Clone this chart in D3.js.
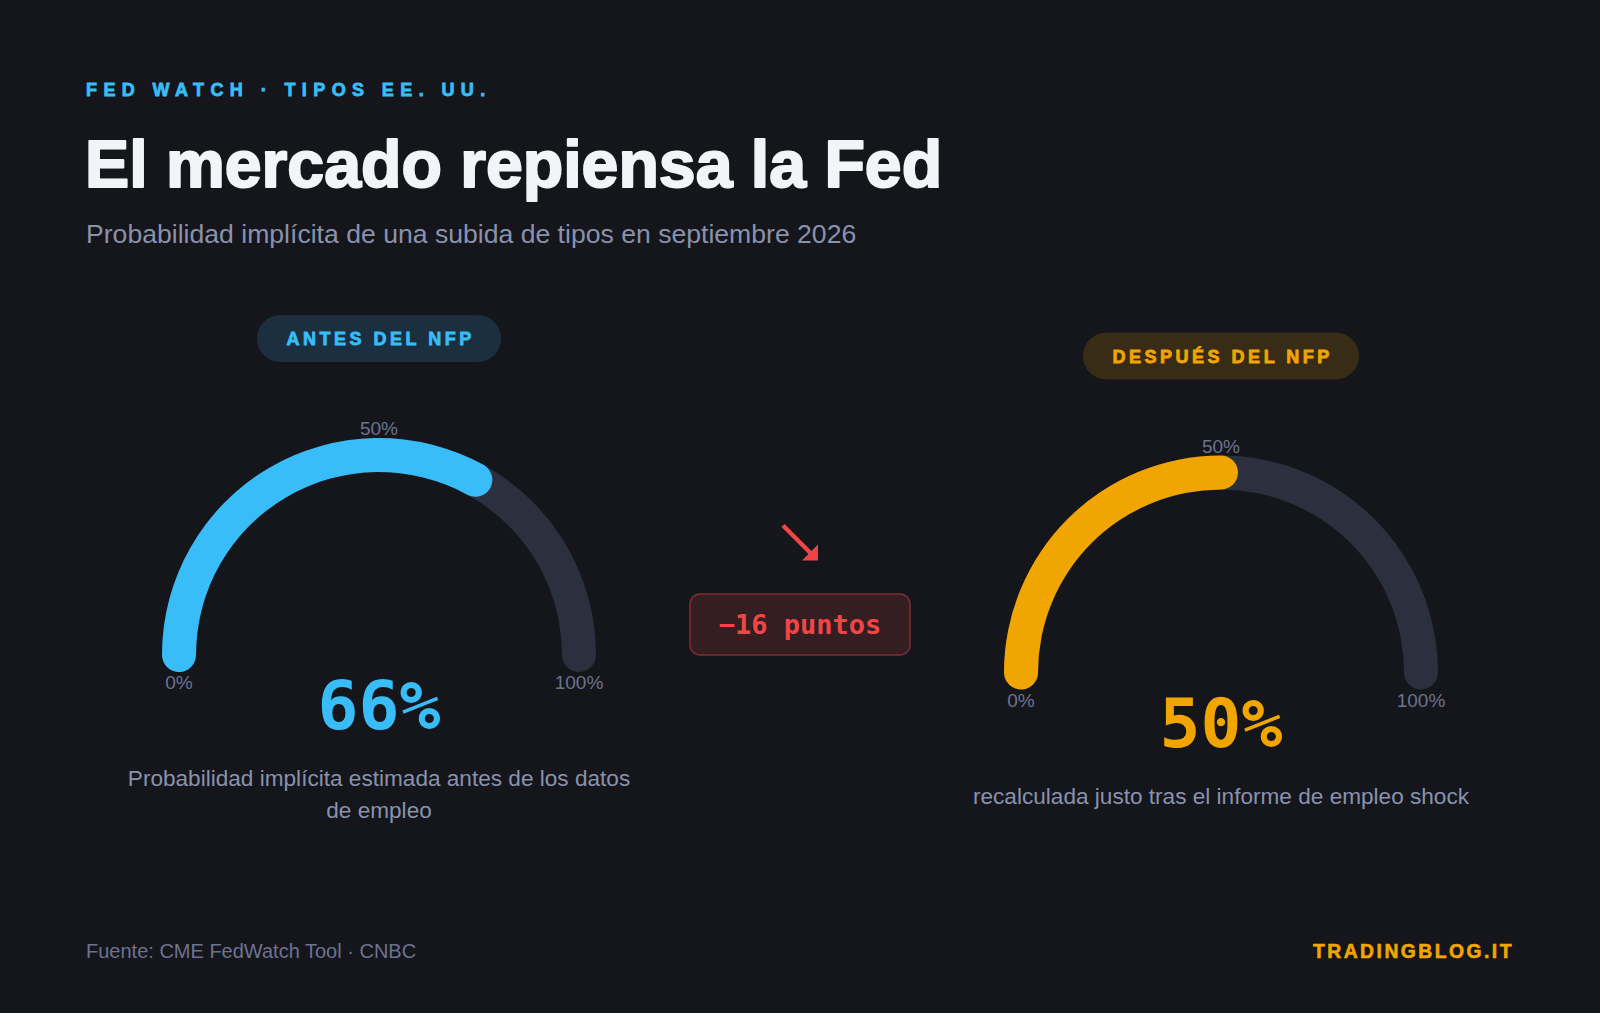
<!DOCTYPE html>
<html>
<head>
<meta charset="utf-8">
<script src="https://cdn.jsdelivr.net/npm/d3@7"></script>
<style>
  html, body { margin: 0; padding: 0; background: #15161b; }
  svg { display: block; }
</style>
</head>
<body>
<div id="chart"></div>
<script>
// data
var eyebrow = "FED WATCH · TIPOS EE. UU.";
var title = "El mercado repiensa la Fed";
var subtitle = "Probabilidad implícita de una subida de tipos en septiembre 2026";
var panelLabels = ["ANTES DEL NFP", "DESPUÉS DEL NFP"];
var probValues = [66, 50];
var descriptions = [
    "Probabilidad implícita estimada antes de los datos de empleo",
    "recalculada justo tras el informe de empleo shock"
];
var tickValues = [0, 50, 100];
var tickLabels = ["0%", "50%", "100%"];
var deltaUnit = "puntos";
var source = "Fuente: CME FedWatch Tool · CNBC";
var brand = "TRADINGBLOG.IT";

var W = 1600, H = 1013;
var colors = ["#38bdf8", "#f0a500"];
var pillFills = ["#1b2f3e", "#382c16"];
var sans = "'Liberation Sans', Arial, sans-serif";
var mono = "'DejaVu Sans Mono', monospace";

var svg = d3.select("#chart").append("svg")
    .attr("width", W)
    .attr("height", H);

svg.append("rect").attr("width", W).attr("height", H).attr("fill", "#15161b");

// header
svg.append("text")
    .attr("x", 86).attr("y", 96)
    .attr("font-family", sans).attr("font-weight", "bold")
    .attr("font-size", 18).attr("letter-spacing", 6.4)
    .attr("fill", "#38bdf8")
    .attr("stroke", "#38bdf8").attr("stroke-width", 0.8)
    .text(eyebrow);

svg.append("text")
    .attr("x", 85).attr("y", 187)
    .attr("font-family", sans).attr("font-weight", 900)
    .attr("font-size", 66.2)
    .attr("fill", "#f3f4f7")
    .attr("stroke", "#f3f4f7").attr("stroke-width", 2)
    .attr("stroke-linejoin", "round")
    .text(title);

svg.append("text")
    .attr("x", 86).attr("y", 243)
    .attr("font-family", sans).attr("font-size", 26.6)
    .attr("fill", "#8a91ad")
    .text(subtitle);

// gauges
var radius = 200, thick = 34;
var centers = [{x: 379, y: 655}, {x: 1221, y: 672.5}];
var capPad = (thick / 2) / radius; // round caps reach past the value angle

var angle = d3.scaleLinear()
    .domain([0, 100])
    .range([-Math.PI / 2, Math.PI / 2]);

var arc = d3.arc()
    .innerRadius(radius - thick / 2)
    .outerRadius(radius + thick / 2)
    .cornerRadius(thick / 2);

function band(a, b) {
    return arc({startAngle: angle(a) - capPad, endAngle: angle(b) + capPad});
}

probValues.forEach(function(v, i) {
    var c = centers[i];
    var g = svg.append("g")
        .attr("transform", "translate(" + c.x + "," + c.y + ")");

    // pill label
    var pill = g.append("g").attr("transform", "translate(0,-316.5)");
    var pt = pill.append("text")
        .attr("text-anchor", "middle")
        .attr("x", 1.7)
        .attr("y", 6.5)
        .attr("font-family", sans).attr("font-weight", "bold")
        .attr("font-size", 18).attr("letter-spacing", 3.5)
        .attr("fill", colors[i])
        .attr("stroke", colors[i]).attr("stroke-width", 0.8)
        .text(panelLabels[i]);
    var pw = pt.node().getComputedTextLength() + 56;
    pill.insert("rect", "text")
        .attr("x", -pw / 2).attr("y", -23.5)
        .attr("width", pw).attr("height", 47)
        .attr("rx", 23.5)
        .attr("fill", pillFills[i]);

    // track and value
    g.append("path")
        .attr("d", band(0, 100))
        .attr("fill", "#2b2f3e");
    g.append("path")
        .attr("d", band(0, v))
        .attr("fill", colors[i]);

    // tick labels
    tickValues.forEach(function(t, k) {
        var a = angle(t);
        var tx = Math.sin(a) * radius, ty = -Math.cos(a) * radius;
        g.append("text")
            .attr("x", tx)
            .attr("y", t === 50 ? ty - 20 : ty + 34)
            .attr("text-anchor", "middle")
            .attr("font-family", sans).attr("font-size", 19)
            .attr("fill", "#6b7391")
            .text(tickLabels[k]);
    });

    // big value
    g.append("text")
        .attr("y", 74)
        .attr("text-anchor", "middle")
        .attr("font-family", mono).attr("font-weight", "bold")
        .attr("font-size", 68)
        .attr("fill", colors[i])
        .text(v + "%");

    // description, wrapped
    var desc = g.append("text")
        .attr("text-anchor", "middle")
        .attr("font-family", sans).attr("font-size", 22.6)
        .attr("fill", "#8a91ad");
    var words = descriptions[i].split(" "), line = [], lineNo = 0;
    var tspan = desc.append("tspan").attr("x", 0).attr("y", 131);
    words.forEach(function(w) {
        line.push(w);
        tspan.text(line.join(" "));
        if (tspan.node().getComputedTextLength() > 520 && line.length > 1) {
            line.pop();
            tspan.text(line.join(" "));
            line = [w];
            lineNo++;
            tspan = desc.append("tspan").attr("x", 0).attr("y", 131 + lineNo * 31.6).text(w);
        }
    });
});

// delta in the middle
var mid = {x: 800, y: 624.5};
var delta = probValues[1] - probValues[0];
var mg = svg.append("g").attr("transform", "translate(" + mid.x + "," + mid.y + ")");

mg.append("rect")
    .attr("x", -110).attr("y", -30.5)
    .attr("width", 220).attr("height", 61)
    .attr("rx", 10)
    .attr("fill", "#341e22")
    .attr("stroke", "#7c2d33").attr("stroke-width", 1.5);

mg.append("text")
    .attr("y", 9.5)
    .attr("text-anchor", "middle")
    .attr("font-family", mono).attr("font-weight", "bold")
    .attr("font-size", 27)
    .attr("fill", "#f04646")
    .text((delta < 0 ? "\u2212" : "+") + Math.abs(delta) + " " + deltaUnit);

// arrow
var arrow = mg.append("g").attr("transform", "translate(0,-82)");
arrow.append("path")
    .attr("d", "M-17,-17 L16,16")
    .attr("stroke", "#ef4444").attr("stroke-width", 4.5)
    .attr("fill", "none");
arrow.append("path")
    .attr("d", "M18,18 L2,18 L18,2 Z")
    .attr("fill", "#ef4444");

// footer
svg.append("text")
    .attr("x", 86).attr("y", 958)
    .attr("font-family", sans).attr("font-size", 20)
    .attr("fill", "#6b7391")
    .text(source);

svg.append("text")
    .attr("x", 1514).attr("y", 958)
    .attr("text-anchor", "end")
    .attr("font-family", sans).attr("font-weight", "bold")
    .attr("font-size", 19.3).attr("letter-spacing", 2.5)
    .attr("fill", "#f0a500")
    .attr("stroke", "#f0a500").attr("stroke-width", 0.6)
    .text(brand);
</script>
</body>
</html>
